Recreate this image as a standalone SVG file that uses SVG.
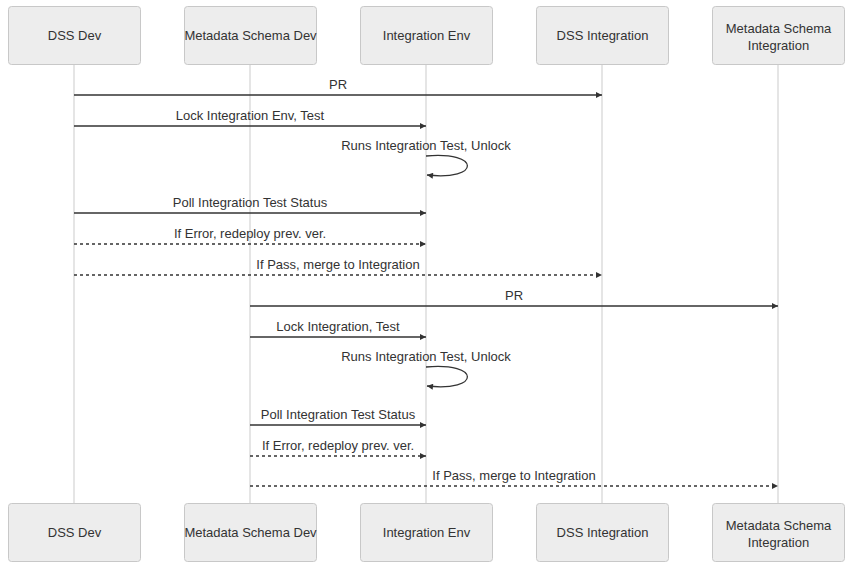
<svg xmlns="http://www.w3.org/2000/svg" width="852" height="567" viewBox="0 0 852 567">
<defs>
<style>
.box{fill:#ededed;stroke:#c8c8c8;stroke-width:1}
.life{stroke:#dcdcdc;stroke-width:1.5;fill:none}
.t{font-family:"Liberation Sans",Arial,sans-serif;font-size:13px;fill:#333;text-anchor:middle}
.msg{stroke:#333;stroke-width:1.3;fill:none;marker-end:url(#ah)}
.dash{stroke-dasharray:3,3}
</style>
<marker id="ah" viewBox="0 0 10 10" refX="10" refY="5" markerWidth="10" markerHeight="6" markerUnits="userSpaceOnUse" orient="auto">
<path d="M0,0 L10,5 L0,10 z" fill="#333"/>
</marker>
</defs>
<rect width="852" height="567" fill="#fff"/>
<g id="lifelines">
<line class="life" x1="74" y1="64" x2="74" y2="503"/>
<line class="life" x1="250" y1="64" x2="250" y2="503"/>
<line class="life" x1="426" y1="64" x2="426" y2="503"/>
<line class="life" x1="602" y1="64" x2="602" y2="503"/>
<line class="life" x1="778" y1="64" x2="778" y2="503"/>
</g>
<g id="node-dss-dev-top"><rect class="box" x="8.5" y="6.5" width="132" height="58" rx="3"/><text class="t" x="74.5" y="40">DSS Dev</text></g>
<g id="node-ms-dev-top"><rect class="box" x="184.5" y="6.5" width="132" height="58" rx="3"/><text class="t" x="250.5" y="40">Metadata Schema Dev</text></g>
<g id="node-int-env-top"><rect class="box" x="360.5" y="6.5" width="132" height="58" rx="3"/><text class="t" x="426.5" y="40">Integration Env</text></g>
<g id="node-dss-int-top"><rect class="box" x="536.5" y="6.5" width="132" height="58" rx="3"/><text class="t" x="602.5" y="40">DSS Integration</text></g>
<g id="node-ms-int-top"><rect class="box" x="712.5" y="6.5" width="132" height="58" rx="3"/><text class="t" x="778.5" y="33">Metadata Schema</text><text class="t" x="778.5" y="50">Integration</text></g>
<g id="node-dss-dev-bottom"><rect class="box" x="8.5" y="503.5" width="132" height="58" rx="3"/><text class="t" x="74.5" y="537">DSS Dev</text></g>
<g id="node-ms-dev-bottom"><rect class="box" x="184.5" y="503.5" width="132" height="58" rx="3"/><text class="t" x="250.5" y="537">Metadata Schema Dev</text></g>
<g id="node-int-env-bottom"><rect class="box" x="360.5" y="503.5" width="132" height="58" rx="3"/><text class="t" x="426.5" y="537">Integration Env</text></g>
<g id="node-dss-int-bottom"><rect class="box" x="536.5" y="503.5" width="132" height="58" rx="3"/><text class="t" x="602.5" y="537">DSS Integration</text></g>
<g id="node-ms-int-bottom"><rect class="box" x="712.5" y="503.5" width="132" height="58" rx="3"/><text class="t" x="778.5" y="530">Metadata Schema</text><text class="t" x="778.5" y="547">Integration</text></g>
<g id="connectors">
<line class="msg" x1="74" y1="95" x2="602" y2="95"/>
<text class="t" x="338" y="89">PR</text>
<line class="msg" x1="74" y1="126" x2="426" y2="126"/>
<text class="t" x="250" y="120">Lock Integration Env, Test</text>
<text class="t" x="426" y="150">Runs Integration Test, Unlock</text>
<path class="msg" d="M426,156 C481,151 481,181 427,175"/>
<line class="msg" x1="74" y1="213" x2="426" y2="213"/>
<text class="t" x="250" y="207">Poll Integration Test Status</text>
<line class="msg dash" x1="74" y1="244" x2="426" y2="244"/>
<text class="t" x="250" y="238">If Error, redeploy prev. ver.</text>
<line class="msg dash" x1="74" y1="275" x2="602" y2="275"/>
<text class="t" x="338" y="269">If Pass, merge to Integration</text>
<line class="msg" x1="250" y1="306" x2="778" y2="306"/>
<text class="t" x="514" y="300">PR</text>
<line class="msg" x1="250" y1="337" x2="426" y2="337"/>
<text class="t" x="338" y="331">Lock Integration, Test</text>
<text class="t" x="426" y="361">Runs Integration Test, Unlock</text>
<path class="msg" d="M426,367 C481,362 481,392 427,386"/>
<line class="msg" x1="250" y1="425" x2="426" y2="425"/>
<text class="t" x="338" y="419">Poll Integration Test Status</text>
<line class="msg dash" x1="250" y1="456" x2="426" y2="456"/>
<text class="t" x="338" y="450">If Error, redeploy prev. ver.</text>
<line class="msg dash" x1="250" y1="486" x2="778" y2="486"/>
<text class="t" x="514" y="480">If Pass, merge to Integration</text>
</g>
</svg>
